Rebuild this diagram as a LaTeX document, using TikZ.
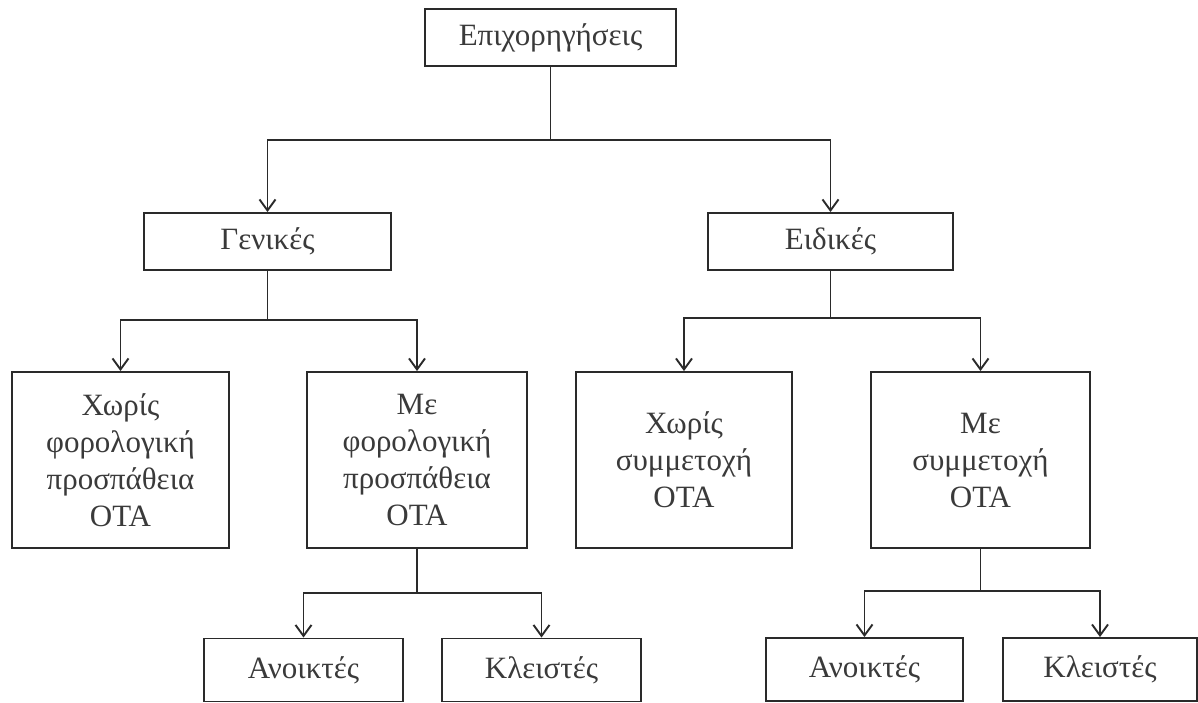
\documentclass[tikz,border=0pt]{standalone}
\usepackage{fontspec}
\setmainfont{Liberation Serif}
\usetikzlibrary{arrows.meta}
\definecolor{ink}{HTML}{2A2A2A}
\definecolor{txt}{HTML}{3A3A3A}
\begin{document}
\begin{tikzpicture}[x=1pt,y=-1pt,
  box/.style={draw=ink, line width=1.9pt, inner sep=0pt, align=center,
    font=\fontsize{31}{37}\selectfont, text=txt},
  conn/.style={draw=ink, line width=1.9pt},
  arr/.style={conn, -{Straight Barb[length=11pt,width=16pt,line width=1.9pt]}}]
\fill[white] (0,0) rectangle (1198,702);
\useasboundingbox (0,0) rectangle (1198,702);

\node[box, minimum width=251pt, minimum height=57pt] (top) at (550.5,37.5) {Επιχορηγήσεις};
\node[box, minimum width=247pt, minimum height=57pt] (gen) at (267.5,241.5) {Γενικές};
\node[box, minimum width=245pt, minimum height=57pt] (eid) at (830.5,241.5) {Ειδικές};

\node[box, minimum width=217pt, minimum height=176pt] (x1) at (120.5,460) {Χωρίς\\φορολογική\\προσπάθεια\\ΟΤΑ};
\node[box, minimum width=220pt, minimum height=176pt] (m1) at (417,460) {Με\\φορολογική\\προσπάθεια\\ΟΤΑ};
\node[box, minimum width=216pt, minimum height=176pt] (x2) at (684,460) {Χωρίς\\συμμετοχή\\ΟΤΑ};
\node[box, minimum width=219pt, minimum height=176pt] (m2) at (980.5,460) {Με\\συμμετοχή\\ΟΤΑ};

\node[box, minimum width=199pt, minimum height=63pt] (a1) at (303.5,670) {Ανοικτές};
\node[box, minimum width=199pt, minimum height=63pt] (k1) at (541.5,670) {Κλειστές};
\node[box, minimum width=197pt, minimum height=63pt] (a2) at (864.5,669.5) {Ανοικτές};
\node[box, minimum width=194pt, minimum height=63pt] (k2) at (1100,669.5) {Κλειστές};

\coordinate (j0) at (550.5,140);
\coordinate (j1) at (267.5,320);
\coordinate (j2) at (830.5,318);
\coordinate (j3) at (417,593);
\coordinate (j4) at (980.5,591);

\draw[conn] (top.south) -- (j0);
\draw[arr] (j0) -| (gen.north);
\draw[arr] (j0) -| (eid.north);

\draw[conn] (gen.south) -- (j1);
\draw[arr] (j1) -| (x1.north);
\draw[arr] (j1) -| (m1.north);

\draw[conn] (eid.south) -- (j2);
\draw[arr] (j2) -| (x2.north);
\draw[arr] (j2) -| (m2.north);

\draw[conn] (m1.south) -- (j3);
\draw[arr] (j3) -| (a1.north);
\draw[arr] (j3) -| (k1.north);

\draw[conn] (m2.south) -- (j4);
\draw[arr] (j4) -| (a2.north);
\draw[arr] (j4) -| (k2.north);
\end{tikzpicture}
\end{document}
